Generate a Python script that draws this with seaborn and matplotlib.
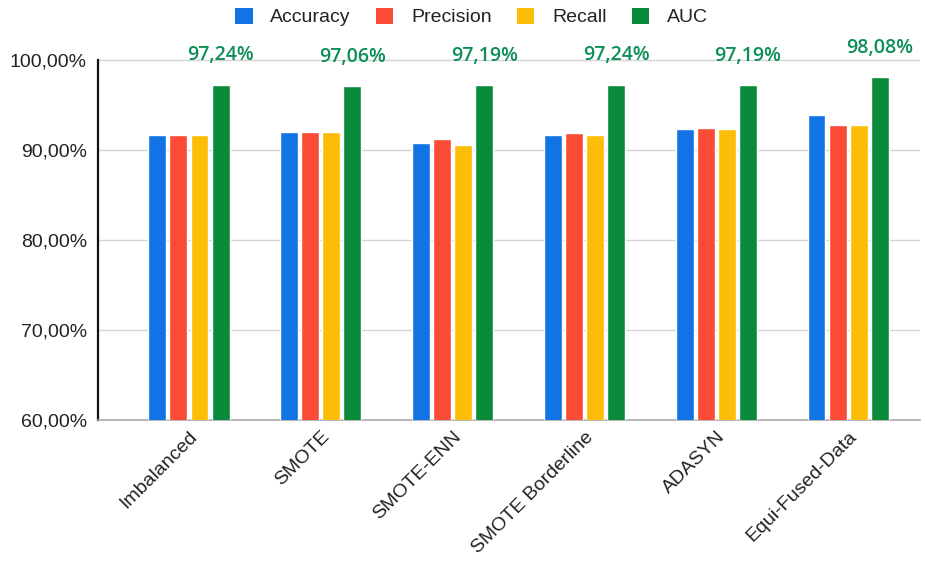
import matplotlib
matplotlib.use("Agg")
import matplotlib.pyplot as plt
import seaborn as sns
import pandas as pd
from matplotlib.patches import Patch
from matplotlib.ticker import FuncFormatter

categories = ["Imbalanced", "SMOTE", "SMOTE-ENN", "SMOTE Borderline", "ADASYN", "Equi-Fused-Data"]
metrics = ["Accuracy", "Precision", "Recall", "AUC"]
accuracy = [91.67, 92.03, 90.74, 91.67, 92.30, 93.85]
precision = [91.67, 92.03, 91.19, 91.85, 92.44, 92.81]
recall = [91.67, 92.03, 90.56, 91.67, 92.30, 92.78]
auc = [97.24, 97.06, 97.19, 97.24, 97.19, 98.08]
auc_labels = ["97,24%", "97,06%", "97,19%", "97,24%", "97,19%", "98,08%"]
yticks = [60, 70, 80, 90, 100]

colors = ["#1173e4", "#fb4b37", "#fbbd05", "#0a8b3b"]
label_green = "#0b8f55"

rows = []
for m, vals in zip(metrics, [accuracy, precision, recall, auc]):
    for c, v in zip(categories, vals):
        rows.append({"Category": c, "Metric": m, "Value": v})
df = pd.DataFrame(rows)

sns.set_theme(style="white")
plt.rcParams["font.family"] = ["Liberation Sans", "DejaVu Sans"]

fig = plt.figure(figsize=(9.28, 5.64), dpi=100)
ax = fig.add_axes([98 / 928, 1 - 420 / 564, 822 / 928, 396 / 564])

sns.barplot(data=df, x="Category", y="Value", hue="Metric", order=categories,
            hue_order=metrics, palette=colors, width=0.64, gap=0.15,
            saturation=1, legend=False, ax=ax, zorder=3)

ax.set_ylim(60, 104)
ax.set_xlim(-0.69, 5.545)
ax.set_yticks(yticks)
ax.yaxis.set_major_formatter(FuncFormatter(lambda v, p: f"{v:.2f}".replace(".", ",") + "%"))
ax.yaxis.grid(True, color="#d4d4d4", linewidth=1.0, zorder=0)
ax.set_axisbelow(True)
ax.tick_params(axis="y", labelsize=14, pad=8, length=0, colors="#222222")
ax.tick_params(axis="x", labelsize=14, pad=6, length=0, colors="#222222")
for lab in ax.get_xticklabels():
    lab.set_rotation(45)
    lab.set_ha("right")
    lab.set_rotation_mode("anchor")
ax.set_xlabel("")
ax.set_ylabel("")
for s in ["top", "right"]:
    ax.spines[s].set_visible(False)
ax.spines["left"].set_color("#111111")
ax.spines["left"].set_linewidth(1.6)
ax.spines["left"].set_bounds(60, 100)
ax.spines["bottom"].set_color("#aaaaaa")
ax.spines["bottom"].set_linewidth(1.2)

for patch, lab in zip(ax.containers[3].patches, auc_labels):
    cx = patch.get_x() + patch.get_width() / 2
    ax.annotate(lab, (cx, patch.get_height()), xytext=(0, 14), textcoords="offset points",
                ha="center", va="bottom", fontsize=14, color=label_green,
                fontfamily=["Open Sans", "DejaVu Sans"], fontweight="semibold")

handles = [Patch(facecolor=c, edgecolor="none", label=m) for c, m in zip(colors, metrics)]
fig.legend(handles=handles, loc="center", bbox_to_anchor=(0.508, 1 - 17 / 564), ncol=4,
           frameon=False, fontsize=14, handlelength=0.9, handleheight=0.9,
           handletextpad=0.9, columnspacing=1.3, labelcolor="#222222")

fig.savefig("out.png", dpi=100, facecolor="white")
